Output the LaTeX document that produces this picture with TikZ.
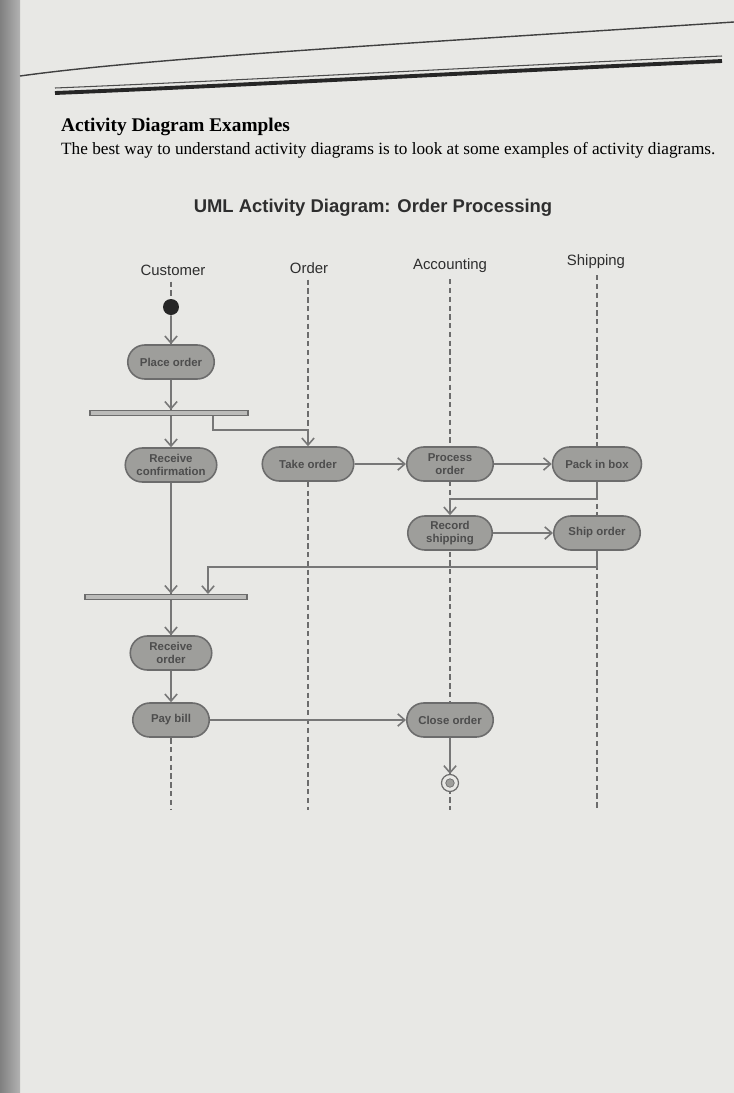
\documentclass[tikz,border=0pt]{standalone}
\usepackage{fontspec}
\setmainfont{Liberation Serif}
\setsansfont{Liberation Sans}
\usetikzlibrary{positioning, shapes.misc, arrows.meta}

\definecolor{paper}{HTML}{E8E8E5}
\definecolor{actfill}{HTML}{9E9E9B}
\definecolor{actline}{HTML}{6C6C6C}
\definecolor{flowgray}{HTML}{777777}
\definecolor{ink}{HTML}{2E2E2E}

\begin{document}
\begin{tikzpicture}[x=0.02cm, y=-0.02cm,
    act/.style={rounded rectangle, draw=actline, fill=actfill, line width=0.9pt,
        font=\sffamily\bfseries\fontsize{6.5}{7.5}\selectfont, text=ink!85,
        align=center, minimum height=0.68cm, inner xsep=1pt, inner ysep=2pt},
    bar/.style={rectangle, draw=actline, fill=actfill!70, line width=0.6pt,
        minimum height=0.11cm, inner sep=0pt},
    lane/.style={densely dashed, draw=actline, line width=0.7pt},
    flow/.style={draw=flowgray, line width=0.9pt,
        -{Straight Barb[length=4pt, width=7pt]}},
    head/.style={font=\sffamily\fontsize{8.5}{10}\selectfont, text=ink}]

    % Pagina
    \useasboundingbox (0,0) rectangle (734,1093);
    \fill[paper] (0,0) rectangle (734,1093);
    \shade[left color=black!50, right color=black!30] (0,0) rectangle (20,1093);
    \draw[black!75, line width=0.8pt] (20,76) .. controls (150,58) and (400,44) .. (734,22);
    \draw[black!70, line width=0.6pt] (55,88) .. controls (250,80) and (500,66) .. (722,56);
    \draw[black!85, line width=2.2pt] (55,93) .. controls (250,85) and (500,71) .. (722,61);

    \node[anchor=base west, font=\bfseries\fontsize{11}{13}\selectfont] (heading) at (55,131) {Activity Diagram Examples};
    \node[anchor=base west, font=\fontsize{9.8}{12}\selectfont] (intro) at (55,154) {The best way to understand activity diagrams is to look at some examples of activity diagrams.};

    % Titolo del diagramma
    \node[font=\sffamily\bfseries\fontsize{10.5}{12}\selectfont, text=ink] (title) at (373,208) {UML Activity Diagram: Order Processing};

    % Corsie
    \node[head] (hcust) at (173,270) {Customer};
    \node[head] (hord) at (309,268) {Order};
    \node[head] (hacc) at (450,266) {Accounting};
    \node[head] (hship) at (596,262) {Shipping};

    \draw[lane] (hcust.south -| 171,0) -- (171,810);
    \draw[lane] (hord.south -| 308,0) -- (308,810);
    \draw[lane] (hacc.south -| 450,0) -- (450,810);
    \draw[lane] (hship.south -| 597,0) -- (597,810);

    % Customer
    \node[circle, fill=black!85, minimum size=0.32cm, inner sep=0pt] (start) at (171,307) {};
    \node[act, minimum width=1.8cm] (place) at (171,362) {Place order};
    \node[bar, minimum width=3.16cm] (fork) at (169,413) {};
    \node[act, minimum width=1.9cm] (confirm) at (171,465) {Receive\\confirmation};

    % Order, Accounting, Shipping
    \node[act, minimum width=1.9cm] (take) at (308,464) {Take order};
    \node[act, minimum width=1.8cm] (process) at (450,464) {Process\\order};
    \node[act, minimum width=1.85cm] (pack) at (597,464) {Pack in box};
    \node[act, minimum width=1.76cm] (record) at (450,533) {Record\\shipping};
    \node[act, minimum width=1.8cm] (shiporder) at (597,533) {Ship order};

    % Join e fine
    \node[bar, minimum width=3.24cm] (join) at (166,597) {};
    \node[act, minimum width=1.7cm] (receive) at (171,653) {Receive\\order};
    \node[act, minimum width=1.6cm] (pay) at (171,720) {Pay bill};
    \node[act, minimum width=1.8cm] (close) at (450,720) {Close order};
    \node[circle, draw=actline, line width=0.7pt, fill=paper, minimum size=0.34cm, inner sep=0pt] (stop) at (450,783) {};
    \node[circle, draw=actline, fill=actfill, minimum size=0.17cm, inner sep=0pt] (stopdot) at (stop) {};

    \coordinate (forkout) at (213,416);
    \coordinate (joinin) at (208,594);

    \draw[flow] (start) -- (place);
    \draw[flow] (place) -- (place |- fork.north);
    \draw[flow] (fork.south -| confirm) -- (confirm);
    \draw[flow] (forkout) -- (213,430) -| (take.north);
    \draw[flow] (take) -- (process);
    \draw[flow] (process) -- (pack);
    \draw[flow] (pack.south) -- ++(0,17) -| (record.north);
    \draw[flow] (record) -- (shiporder);
    \draw[flow] (shiporder.south) -- ++(0,16) -| (joinin);
    \draw[flow] (confirm) -- (confirm |- join.north);
    \draw[flow] (join.south -| receive) -- (receive);
    \draw[flow] (receive) -- (pay);
    \draw[flow] (pay) -- (close);
    \draw[flow] (close) -- (stop);
\end{tikzpicture}
\end{document}
